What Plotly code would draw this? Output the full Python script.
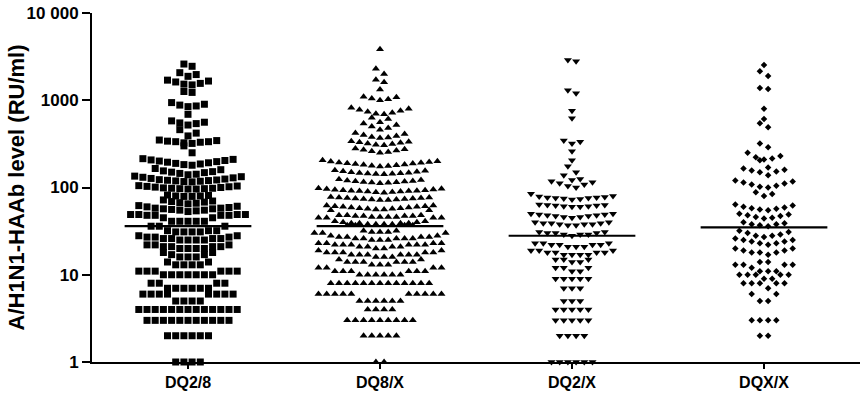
import numpy as np
import plotly.graph_objects as go

categories = ["DQ2/8", "DQ8/X", "DQ2/X", "DQX/X"]

dq28 = [2600, 2450,
        2070, 1970, 1880,
        1700, 1660, 1620, 1560, 1530, 1500,
        1260, 1230,
        940, 900, 880, 860, 845,
        690,
        580, 560, 550, 540, 520,
        460, 420, 390,
        350, 345, 340, 335, 335, 330, 325, 320,
        300, 250,
        214, 210, 207, 204, 201, 198, 195, 192, 189, 186, 183, 180,
        165, 160, 155, 152, 150, 148, 145, 142, 140,
        135, 133, 131, 129, 127, 125, 123, 122, 121, 120, 119, 118, 117, 116,
        105, 104, 103, 102, 101, 100, 99, 98, 98, 97, 97, 96, 96,
        82, 81, 80, 80, 79, 79,
        72, 70, 69, 68, 67, 66, 65,
        62, 61, 60, 59, 58, 58, 57, 57, 56, 55, 55, 54, 53,
        49, 49, 49, 49, 48, 48, 48, 48, 45, 45, 41, 41, 41, 41, 41,
        36, 36, 36, 32, 32, 32, 31, 31, 31, 31,
        28, 28, 27, 27, 27, 26, 26, 26, 26, 25, 25, 25, 25,
        22, 22, 22, 21, 21, 21, 21, 20, 20, 20, 20,
        18, 18, 17, 17, 16, 16, 16,
        14, 14, 13, 13, 13, 13,
        11, 11, 11, 11, 11, 11,
        10, 10, 10, 10, 10, 10, 10,
        8, 8, 8, 8,
        7, 7, 7, 7, 7, 7,
        6, 6, 6, 6, 6, 6, 6, 6,
        5, 5, 5, 5,
        4, 4, 4, 4, 4, 4, 4, 4, 4, 4, 4, 4, 4,
        3, 3, 3, 3, 3, 3, 3, 3, 3, 3, 3,
        2, 2, 2, 2, 2, 2,
        1, 1, 1, 1]

dq8x = [3850,
        2300, 2000,
        1720, 1610,
        1330,
        1100, 1080, 1050, 1030, 1000,
        820, 800, 780, 760, 740, 720, 700, 690,
        630, 610, 560,
        540, 520, 500, 480, 460,
        420, 410, 400, 390, 380, 375, 370,
        340, 335, 330, 325, 320, 315, 310, 305,
        280, 275, 270, 265, 260, 255, 250,
        205, 200, 198, 196, 194, 192, 190, 188, 186, 184, 182, 180, 178, 176, 174,
        158, 156, 154, 152, 150, 148, 147, 146, 145, 144, 143, 142,
        124, 122, 120, 119, 118, 117, 116, 115, 114, 113, 112,
        98, 97, 96, 95, 94, 93, 93, 92, 92, 91, 91, 90, 90, 89, 88, 87,
        78, 77, 77, 76, 76, 75, 75, 74, 74, 73, 73, 72, 72,
        62, 62, 61, 61, 60, 60, 59, 59, 58, 58, 57, 57, 56, 56, 55, 55,
        48, 48, 48, 47, 47, 47, 47, 46, 46, 46, 46, 45, 45, 45, 45,
        41, 41, 40, 40, 39, 39, 39, 39, 38, 38, 38, 38, 37, 37, 37, 37,
        32, 32, 31, 31, 31, 30, 30, 30,
        28, 28, 27, 27, 27, 27, 26, 26, 26, 26, 26, 25, 25, 25,
        23, 23, 23, 23, 22, 22, 22, 22, 22, 22, 21, 21, 21, 21, 20, 20,
        19, 19, 18, 18, 18, 18, 18, 17, 17, 17, 17, 17, 17, 16, 16, 16,
        15, 15, 14, 14, 14, 14, 14, 14, 13, 13, 13,
        12, 12, 12, 12, 11, 11, 11, 11, 11, 11, 10, 10, 10, 10, 10, 10,
        8, 8, 8, 8, 8, 8, 8, 8, 8, 8, 8, 8, 8,
        6, 6, 6, 6, 6, 6, 6, 6, 6, 6, 5, 5, 5, 5, 5, 5,
        4, 4, 4, 4,
        3, 3, 3, 3, 3, 3, 3, 3, 3,
        2, 2, 2, 2, 2,
        1, 1]

dq2x = [2900, 2800,
        1300, 1200,
        760, 620,
        345, 335, 320,
        260, 205, 175, 150, 138,
        125, 122, 118, 115, 112, 108, 104, 100,
        85,
        80, 79, 78, 77, 77, 76, 76, 75, 74, 73,
        64, 63, 63, 62, 62, 61, 61, 60, 60,
        50, 50, 49, 49, 48, 48, 47, 47, 46, 46, 45,
        40, 40, 39, 39, 39, 38, 38, 38, 37, 37,
        31, 31, 30, 30, 30, 29, 29, 29, 28,
        23, 23, 23, 22, 22, 22, 22, 21, 21, 21,
        19, 19, 19, 18, 18, 18, 18, 17, 17, 17, 17,
        15, 15, 15, 14, 14,
        12, 12, 12, 11, 11,
        9, 9, 9, 9, 9,
        7, 7, 7,
        5, 5, 5,
        4, 4, 4, 4, 4,
        3, 3, 3, 3, 3,
        2, 2, 2, 2,
        1, 1, 1, 1, 1, 1]

dqxx = [2530, 2150, 1900, 1380, 1350, 800, 610, 545, 490, 320, 290, 250,
        230, 222, 215, 210, 205,
        170, 165, 160, 157, 153, 150,
        138,
        120, 117, 114, 111, 108, 105, 102, 100,
        88, 84, 80,
        64, 62, 60, 59, 58, 57, 56, 55,
        50, 49, 48, 47, 46, 45, 44,
        40, 39, 38, 38, 37, 36,
        32, 31, 30, 29, 28, 28, 27, 26, 25, 25, 24,
        24, 23, 23, 22,
        20, 20, 19, 19, 18, 18, 18, 17,
        14, 14, 13, 13, 13, 13, 12,
        11, 11, 11, 10, 10, 10, 10, 10, 9,
        9, 8, 8, 8, 8, 8,
        7, 6, 6,
        5, 5,
        3, 3, 3, 3,
        2, 2]

medians = [36, 36, 28, 35]
ytick_vals = [1, 10, 100, 1000, 10000]
ytick_text = ["1", "10", "100", "1000", "10 000"]

series = [dq28, dq8x, dq2x, dqxx]
symbols = ["square", "triangle-up", "triangle-down", "diamond"]
sizes = [7, 7, 7, 5]

W, H = 864, 395
ML, MR, MT, MB = 92, 4, 10, 32
PLOT_W = W - ML - MR
PLOT_H = H - MT - MB
PX_PER_DECADE = PLOT_H / 4.0
PX_PER_CAT = PLOT_W / 4.0
SPACING = 8.2
ROW_H = 7.2
HALF_LINE = 0.33


def swarm(values):
    vals = sorted(values)
    ypx = [np.log10(v) * PX_PER_DECADE for v in vals]
    bins, cur = [], [0]
    for i in range(1, len(vals)):
        if ypx[i] - ypx[cur[0]] < ROW_H:
            cur.append(i)
        else:
            bins.append(cur)
            cur = [i]
    bins.append(cur)
    xs, ys = [], []
    for b in bins:
        n = len(b)
        slots = [(k - (n - 1) / 2.0) * SPACING for k in range(n)]
        slots.sort(key=lambda s: (abs(s), -s))
        for idx, s in zip(b, slots):
            xs.append(s / PX_PER_CAT)
            ys.append(vals[idx])
    return xs, ys


fig = go.Figure()
for i, vals in enumerate(series):
    dx, ys = swarm(vals)
    fig.add_trace(go.Scatter(
        x=[i + d for d in dx], y=ys, mode="markers",
        marker=dict(symbol=symbols[i], size=sizes[i], color="black",
                    line=dict(width=0)),
        cliponaxis=False, showlegend=False, hoverinfo="y"))
    fig.add_trace(go.Scatter(
        x=[i - HALF_LINE, i + HALF_LINE], y=[medians[i], medians[i]],
        mode="lines", line=dict(color="black", width=2.2),
        cliponaxis=False, showlegend=False, hoverinfo="skip"))

font_family = "Liberation Sans, Arial, sans-serif"

fig.update_layout(
    width=W, height=H,
    margin=dict(l=ML, r=MR, t=MT, b=MB),
    paper_bgcolor="white", plot_bgcolor="white",
    font=dict(family=font_family, color="black"),
    xaxis=dict(range=[-0.5, 3.5], tickmode="array", tickvals=[0, 1, 2, 3],
               ticktext=categories, showline=True, linecolor="black",
               linewidth=2, ticks="outside", ticklen=5, tickwidth=2,
               tickcolor="black", showgrid=False, zeroline=False,
               tickfont=dict(size=16, weight="bold", family=font_family)),
    yaxis=dict(type="log", range=[0, 4], tickmode="array",
               tickvals=ytick_vals, ticktext=ytick_text,
               showline=True, linecolor="black", linewidth=2,
               ticks="outside", ticklen=8, tickwidth=2, tickcolor="black",
               showgrid=False, zeroline=False, ticklabeloverflow="allow",
               tickfont=dict(size=17, weight="bold", family=font_family)),
    annotations=[dict(text="A/H1N1-HAAb level (RU/ml)", textangle=-90,
                      xref="paper", yref="paper", x=(16 - ML) / PLOT_W,
                      y=0.5, xanchor="center", yanchor="middle",
                      showarrow=False,
                      font=dict(size=22, weight="bold", family=font_family))],
)

fig.write_html("out.html",
               config={"displayModeBar": False},
               post_script="document.body.style.margin='0px';")
